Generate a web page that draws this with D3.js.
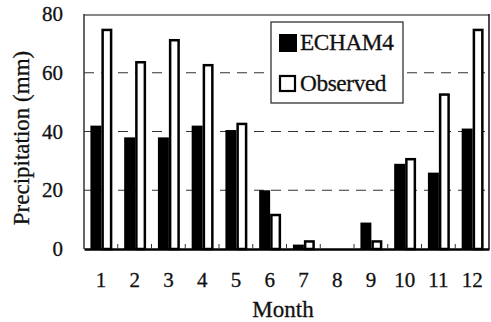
<!DOCTYPE html>
<html>
<head>
<meta charset="utf-8">
<script src="https://cdn.jsdelivr.net/npm/d3@7"></script>
<style>
  html, body { margin: 0; padding: 0; background: #fff; }
  svg { display: block; }
</style>
</head>
<body>
<svg id="chart" width="491" height="322"></svg>
<script>
const months = ["1","2","3","4","5","6","7","8","9","10","11","12"];
const series = ["ECHAM4", "Observed"];
const echam4 = [42, 38, 38, 42, 40.5, 20, 1.5, 0, 9, 29, 26, 41];
const observed = [75, 64, 71.5, 63, 43, 12, 3, 0, 3, 31, 53, 75];
const yTicks = [0, 20, 40, 60, 80];
const gridTicks = [20, 40, 60];

const FONT = "'Liberation Serif', 'Times New Roman', serif";
const svg = d3.select("#chart");
const mLeft = 84, mRight = 489, mTop = 14, mBottom = 249;

const x = d3.scaleBand().domain(months).range([mLeft, mRight]).padding(0);
const xs = d3.scaleBand().domain(series)
  .range([x.bandwidth() * 0.19, x.bandwidth() * 0.84]).padding(0);
const y = d3.scaleLinear().domain([0, 80]).range([mBottom, mTop]);

// gridlines
svg.append("g").selectAll("line").data(gridTicks).join("line")
  .attr("x1", mLeft).attr("x2", mRight)
  .attr("y1", d => y(d)).attr("y2", d => y(d))
  .attr("stroke", "#333").attr("stroke-width", 1.2)
  .attr("stroke-dasharray", "10,7");

// bars
const data = months.map((m, i) => ({ m, ECHAM4: echam4[i], Observed: observed[i] }));
const g = svg.append("g");
const groups = g.selectAll("g").data(data).join("g")
  .attr("transform", d => `translate(${x(d.m)},0)`);
groups.append("rect")
  .attr("x", xs("ECHAM4")).attr("width", xs.bandwidth())
  .attr("y", d => y(d.ECHAM4)).attr("height", d => y(0) - y(d.ECHAM4))
  .attr("fill", "#000");
groups.filter(d => d.Observed > 0).append("rect")
  .attr("x", xs("Observed") + 1.25).attr("width", xs.bandwidth() - 2.5)
  .attr("y", d => y(d.Observed) + 1.25).attr("height", d => Math.max(0, y(0) - y(d.Observed) - 1.25))
  .attr("fill", "#fff").attr("stroke", "#000").attr("stroke-width", 2.5);

// frame
svg.append("line").attr("x1", mLeft).attr("x2", mRight).attr("y1", mTop + 1).attr("y2", mTop + 1)
  .attr("stroke", "#888").attr("stroke-width", 2);
svg.append("line").attr("x1", mLeft).attr("x2", mLeft).attr("y1", mTop).attr("y2", mBottom)
  .attr("stroke", "#333").attr("stroke-width", 1.5);
svg.append("line").attr("x1", mRight).attr("x2", mRight).attr("y1", mTop).attr("y2", mBottom)
  .attr("stroke", "#111").attr("stroke-width", 1.5);

// x axis
const xAxis = d3.axisBottom(x).tickSize(0).tickPadding(0);
const xg = svg.append("g").attr("transform", `translate(0,${mBottom})`).call(xAxis)
  .attr("font-family", FONT);
xg.select(".domain").attr("stroke", "#000").attr("stroke-width", 2.5);
xg.selectAll(".tick text").attr("font-size", 21).attr("dy", null).attr("y", 38)
  .attr("font-family", FONT).attr("fill", "#111")
  .attr("stroke", "#111").attr("stroke-width", 0.3);
// ticks between categories
svg.append("g").selectAll("line").data(months.slice(1)).join("line")
  .attr("x1", d => x(d)).attr("x2", d => x(d))
  .attr("y1", mBottom).attr("y2", mBottom - 5)
  .attr("stroke", "#333").attr("stroke-width", 1);

// y axis labels
const yAxis = d3.axisLeft(y).tickValues(yTicks).tickSize(0).tickPadding(21);
const yg = svg.append("g").attr("transform", `translate(${mLeft},0)`).call(yAxis)
  .attr("font-family", FONT);
yg.select(".domain").remove();
yg.selectAll(".tick text").attr("font-size", 21)
  .attr("font-family", FONT).attr("fill", "#111")
  .attr("stroke", "#111").attr("stroke-width", 0.3);

// axis titles
svg.append("text").attr("x", 283).attr("y", 317).attr("text-anchor", "middle")
  .attr("font-family", FONT).attr("font-size", 23).attr("fill", "#111")
  .attr("stroke", "#111").attr("stroke-width", 0.3).text("Month");
svg.append("text").attr("transform", "translate(29,138) rotate(-90)")
  .attr("text-anchor", "middle").attr("font-family", FONT).attr("font-size", 23)
  .attr("fill", "#111").attr("stroke", "#111").attr("stroke-width", 0.3)
  .text("Precipitation (mm)");

// legend
const lg = svg.append("g");
lg.append("rect").attr("x", 271).attr("y", 22).attr("width", 132).attr("height", 81)
  .attr("fill", "#fff").attr("stroke", "#222").attr("stroke-width", 1.2);
const legItems = lg.selectAll("g").data(series).join("g")
  .attr("transform", (d, i) => `translate(279,${34 + i * 41})`);
legItems.append("rect")
  .attr("x", d => d === "ECHAM4" ? 0 : 1).attr("y", d => d === "ECHAM4" ? 0 : 1)
  .attr("width", d => d === "ECHAM4" ? 18 : 15).attr("height", d => d === "ECHAM4" ? 18 : 15)
  .attr("fill", d => d === "ECHAM4" ? "#000" : "#fff")
  .attr("stroke", "#000").attr("stroke-width", d => d === "ECHAM4" ? 0 : 2.2);
legItems.append("text").attr("x", 21).attr("y", 16)
  .attr("font-family", FONT).attr("font-size", 23.3)
  .attr("fill", "#111").attr("stroke", "#111").attr("stroke-width", 0.3)
  .attr("letter-spacing", -0.4).text(d => d);
</script>
</body>
</html>
